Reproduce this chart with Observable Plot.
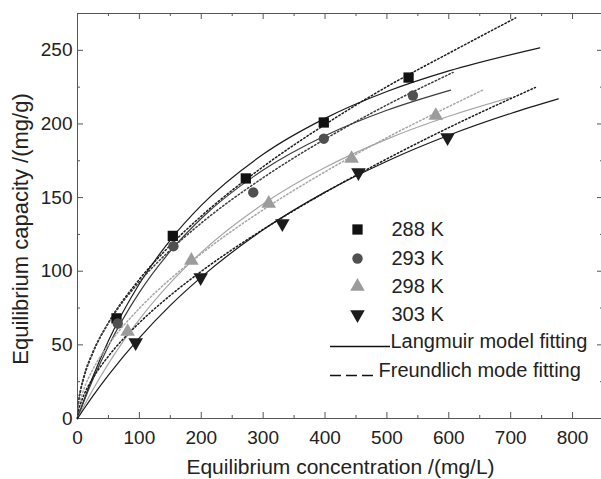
<!DOCTYPE html>
<html><head><meta charset="utf-8">
<script src="https://cdn.jsdelivr.net/npm/d3@7"></script>
<script src="https://cdn.jsdelivr.net/npm/@observablehq/plot@0.6"></script>
<style>
body{margin:0;background:#fff}
#chart svg{display:block}
</style>
</head><body><div id="chart"></div>
<script>
// ---- Data ----
const seriesLabels = ["288 K", "293 K", "298 K", "303 K"];
const modelLabels = ["Langmuir model fitting", "Freundlich mode fitting"];

// Experimental points: equilibrium concentration (mg/L) and capacity (mg/g)
const ce288 = [63, 154, 272, 398, 535];
const qe288 = [68, 124, 163, 201, 231.5];
const ce293 = [65, 155, 284, 398, 542];
const qe293 = [64.5, 117, 153.5, 190, 219.3];
const ce298 = [81, 184, 309, 443, 579];
const qe298 = [59, 107.3, 146, 176.5, 205.7];
const ce303 = [94, 199, 331, 454, 598];
const qe303 = [51.6, 95.7, 132.4, 167, 190.8];

// Langmuir fitted curves
const lang288x = [0, 10, 25, 50, 100, 150, 200, 300, 400, 500, 600, 747];
const lang288y = [0, 12.0, 28.5, 52.8, 91.5, 121.2, 144.7, 179.4, 203.8, 222, 236, 251.7];
const lang293x = [0, 10, 25, 50, 100, 150, 200, 300, 400, 500, 603];
const lang293y = [0, 11.2, 26.6, 49.2, 85.6, 113.6, 135.8, 168.7, 192, 209.3, 223];
const lang298x = [0, 10, 25, 50, 100, 150, 200, 300, 400, 500, 600, 700];
const lang298y = [0, 8.1, 19.7, 37.3, 67.3, 92.1, 112.8, 145.6, 170.4, 189.7, 205.2, 218];
const lang303x = [0, 10, 25, 50, 100, 150, 200, 300, 400, 500, 600, 700, 777];
const lang303y = [0, 6.3, 15.4, 29.5, 54.8, 76.8, 96, 128.1, 153.7, 174.7, 192.3, 207.1, 217];

// Freundlich fitted curves
const freu288x = [0, 2, 5, 10, 25, 50, 100, 150, 200, 300, 400, 500, 600, 708];
const freu288y = [0, 11.4, 18.7, 27.3, 44.7, 65, 94.5, 117.6, 137.4, 171, 199.6, 225.3, 248, 272];
const freu293x = [0, 2, 5, 10, 25, 50, 100, 150, 200, 300, 400, 500, 607];
const freu293y = [0, 12.3, 19.8, 28.3, 45.4, 64.9, 92.8, 114.4, 132.7, 163.5, 189.7, 212.9, 235];
const freu298x = [0, 2, 5, 10, 25, 50, 100, 150, 200, 300, 400, 500, 600, 655];
const freu298y = [0, 7.7, 13.1, 19.6, 33.5, 50, 74.8, 94.7, 111.9, 141.7, 167.5, 190.7, 211.8, 223];
const freu303x = [0, 2, 5, 10, 25, 50, 100, 150, 200, 300, 400, 500, 600, 740];
const freu303y = [0, 5.7, 10.1, 15.6, 27.5, 42.3, 65, 83.6, 99.9, 128.4, 153.5, 176.3, 197.5, 224.8];

// Axis ticks
const xMajor = [0, 100, 200, 300, 400, 500, 600, 700, 800];
const xMinor = [50, 150, 250, 350, 450, 550, 650, 750, 850];
const yMajor = [0, 50, 100, 150, 200, 250];
const yMinor = [25, 75, 125, 175, 225, 275];

// ---- Build tables ----
const zipPts = (xs, ys) => xs.map((x, i) => ({x, y: ys[i]}));
const series = [
  {label: seriesLabels[0], pts: zipPts(ce288, qe288), lang: zipPts(lang288x, lang288y), freu: zipPts(freu288x, freu288y),
   color: "#111", lineColor: "#1a1a1a", symbol: "square", r: 5.8, rotate: 0},
  {label: seriesLabels[1], pts: zipPts(ce293, qe293), lang: zipPts(lang293x, lang293y), freu: zipPts(freu293x, freu293y),
   color: "#505050", lineColor: "#3c3c3c", symbol: "circle", r: 5.2, rotate: 0},
  {label: seriesLabels[2], pts: zipPts(ce298, qe298), lang: zipPts(lang298x, lang298y), freu: zipPts(freu298x, freu298y),
   color: "#9c9c9c", lineColor: "#a6a6a6", symbol: "triangle", r: 5.4, rotate: 0},
  {label: seriesLabels[3], pts: zipPts(ce303, qe303), lang: zipPts(lang303x, lang303y), freu: zipPts(freu303x, freu303y),
   color: "#1c1c1c", lineColor: "#1a1a1a", symbol: "triangle", r: 5.4, rotate: 180}
];

// ---- Layout ----
const W = 601, H = 479;
const mL = 77, mR = -2, mT = 13, mB = 61;
const FW = W - mL - mR, FH = H - mT - mB;
const font = "'Liberation Sans', Arial, sans-serif";
const ink = "#222";
const frameInk = "#555";

const marks = [];
marks.push(Plot.frame({stroke: frameInk, strokeWidth: 1}));
// inward ticks on all four sides
marks.push(Plot.tickX(xMajor, {insetTop: FH - 6, stroke: frameInk}));
marks.push(Plot.tickX(xMinor, {insetTop: FH - 3, stroke: frameInk}));
marks.push(Plot.tickX(xMajor, {insetBottom: FH - 6, stroke: frameInk}));
marks.push(Plot.tickX(xMinor, {insetBottom: FH - 3, stroke: frameInk}));
marks.push(Plot.tickY(yMajor, {insetRight: FW - 6, stroke: frameInk}));
marks.push(Plot.tickY(yMinor, {insetRight: FW - 3, stroke: frameInk}));
marks.push(Plot.tickY(yMajor, {insetLeft: FW - 6, stroke: frameInk}));
marks.push(Plot.tickY(yMinor, {insetLeft: FW - 3, stroke: frameInk}));

marks.push(Plot.axisX(xMajor, {tickSize: 0, tickPadding: 12, fontSize: 19, fill: ink, label: null, tickFormat: d => String(d)}));
marks.push(Plot.axisY(yMajor, {tickSize: 0, tickPadding: 5, fontSize: 19, fill: ink, label: null, tickFormat: d => String(d)}));

// fitted curves
for (const s of series) {
  marks.push(Plot.line(s.freu, {x: "x", y: "y", stroke: s.lineColor, strokeWidth: 1.5, strokeDasharray: "1.5,2.3", curve: "monotone-x"}));
  marks.push(Plot.line(s.lang, {x: "x", y: "y", stroke: s.lineColor, strokeWidth: 1.2, curve: "monotone-x"}));
}
// experimental points
for (const s of series) {
  marks.push(Plot.dot(s.pts, {x: "x", y: "y", symbol: s.symbol, r: s.r, rotate: s.rotate, fill: s.color, stroke: "none"}));
}

// legend (positioned relative to the frame)
const legY = [216, 245, 273, 301];
series.forEach((s, i) => {
  marks.push(Plot.dot([s.label], {frameAnchor: "top-left", dx: 280, dy: legY[i], symbol: s.symbol, r: s.r, rotate: s.rotate, fill: s.color, stroke: "none"}));
  marks.push(Plot.text([s.label], {frameAnchor: "top-left", dx: 314, dy: legY[i], text: d => d, textAnchor: "start", lineAnchor: "middle", fontSize: 20, fill: ink}));
});
marks.push(Plot.ruleY([0], {dy: -72, insetLeft: 253, insetRight: 213, stroke: "#111", strokeWidth: 1.6}));
marks.push(Plot.text([modelLabels[0]], {frameAnchor: "top-left", dx: 313, dy: 328, text: d => d, textAnchor: "start", lineAnchor: "middle", fontSize: 20, fill: ink}));
marks.push(Plot.ruleY([0], {dy: -43, insetLeft: 253, insetRight: 225, stroke: "#111", strokeWidth: 1.6, strokeDasharray: "11,5"}));
marks.push(Plot.text([modelLabels[1]], {frameAnchor: "top-left", dx: 301, dy: 357, text: d => d, textAnchor: "start", lineAnchor: "middle", fontSize: 20, fill: ink}));

// axis titles
marks.push(Plot.text(["Equilibrium concentration /(mg/L)"], {frameAnchor: "bottom", dy: 49, text: d => d, textAnchor: "middle", lineAnchor: "middle", fontSize: 21, fill: ink}));
marks.push(Plot.text(["Equilibrium capacity /(mg/g)"], {frameAnchor: "left", dx: -57, dy: 13, rotate: -90, text: d => d, textAnchor: "middle", lineAnchor: "middle", fontSize: 22, fill: ink}));

const chart = Plot.plot({
  width: W, height: H,
  marginLeft: mL, marginRight: mR, marginTop: mT, marginBottom: mB,
  style: {fontFamily: font, background: "#fff", overflow: "hidden"},
  x: {domain: [0, 850], range: [mL, W - mR]},
  y: {domain: [0, 275]},
  marks
});
document.getElementById("chart").appendChild(chart);
</script>
</body></html>
